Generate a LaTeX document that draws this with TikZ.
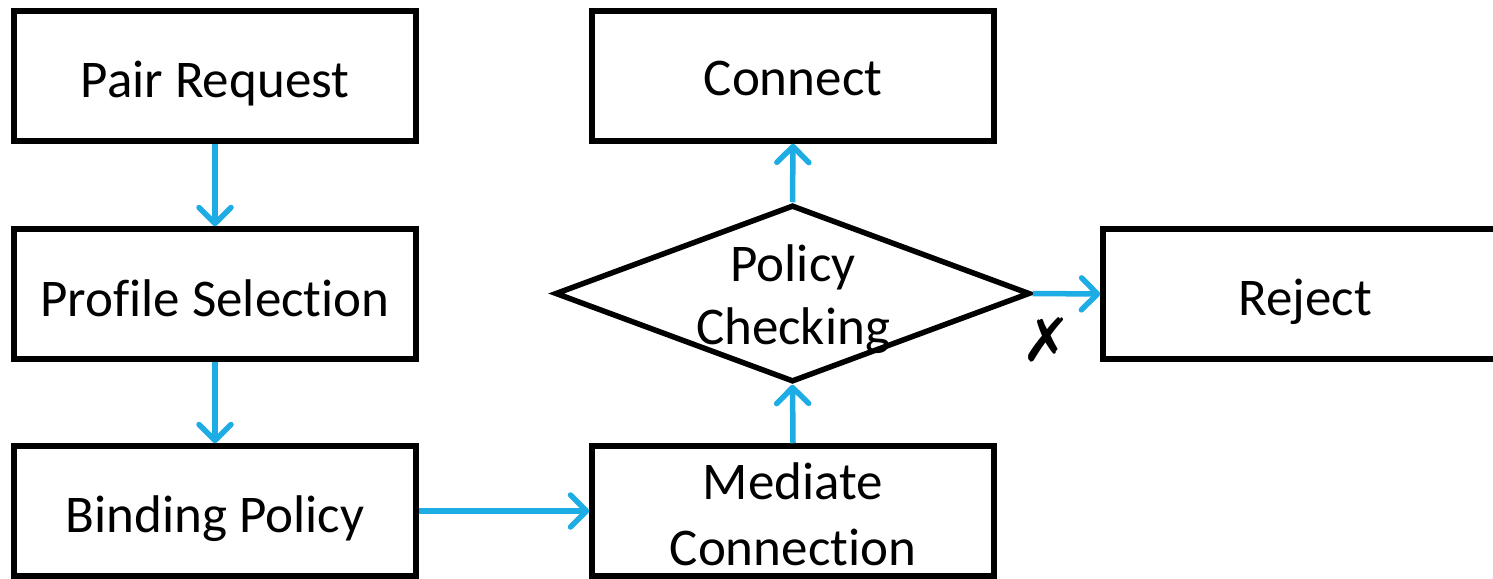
\documentclass[tikz,border=0pt]{standalone}
\usepackage{fontspec}
\setmainfont{Carlito}[Ligatures=NoCommon]
\newfontfamily\symfont{DejaVu Sans}
\usetikzlibrary{arrows.meta,shapes.geometric}
\definecolor{flowblue}{RGB}{30,172,228}
\tikzset{
  box/.style={draw=black, line width=5.5pt, minimum width=402pt, minimum height=130pt, inner sep=0pt},
  decision/.style={draw=black, line width=5.5pt, diamond, minimum width=475pt, minimum height=177pt, inner sep=0pt, line join=miter},
  lbl/.style={anchor=base, inner sep=0pt, font=\fontsize{53}{66}\selectfont},
  flow/.style={draw=flowblue, line width=5.5pt, -{Straight Barb[length=16pt, width=32pt, line cap=round, line join=round]}}
}
\begin{document}
\begin{tikzpicture}[x=1pt, y=-1pt]
  \useasboundingbox (0,0) rectangle (1493,578);
  \clip (0,0) rectangle (1493,578);
  % process boxes
  \node[box] (pair) at (215,76) {};
  \node[box] (profile) at (215,294) {};
  \node[box] (binding) at (215,511) {};
  \node[box] (connect) at (793,76) {};
  \node[box] (mediate) at (793,511) {};
  \node[box] (reject) at (1304,294) {};
  \node[decision] (check) at (792.5,293.5) {};
  % labels
  \node[lbl] (tpair) at (215,97) {Pair Request};
  \node[lbl] (tprofile) at (215,316) {Profile Selection};
  \node[lbl] (tbinding) at (215,532) {Binding Policy};
  \node[lbl] (tconnect) at (793,95) {Connect};
  \node[lbl] (tmed1) at (793,499) {Mediate};
  \node[lbl] (tmed2) at (793,565) {Connection};
  \node[lbl] (tpol1) at (793,281) {Policy};
  \node[lbl] (tpol2) at (793,344) {Checking};
  \node[lbl] (treject) at (1305,315) {Reject};
  \node[inner sep=0pt, font=\symfont\fontsize{60}{64}\selectfont] (cross) at (1047,340) {✗};
  % connectors
  \draw[flow] (pair.south) -- (profile.north);
  \draw[flow] (profile.south) -- (binding.north);
  \draw[flow] (binding.east) -- (mediate.west);
  \draw[flow] (mediate.north) -- (check.south);
  \draw[flow] (check.north) -- (connect.south);
  \draw[flow] (check.east) -- (reject.west);
\end{tikzpicture}
\end{document}
